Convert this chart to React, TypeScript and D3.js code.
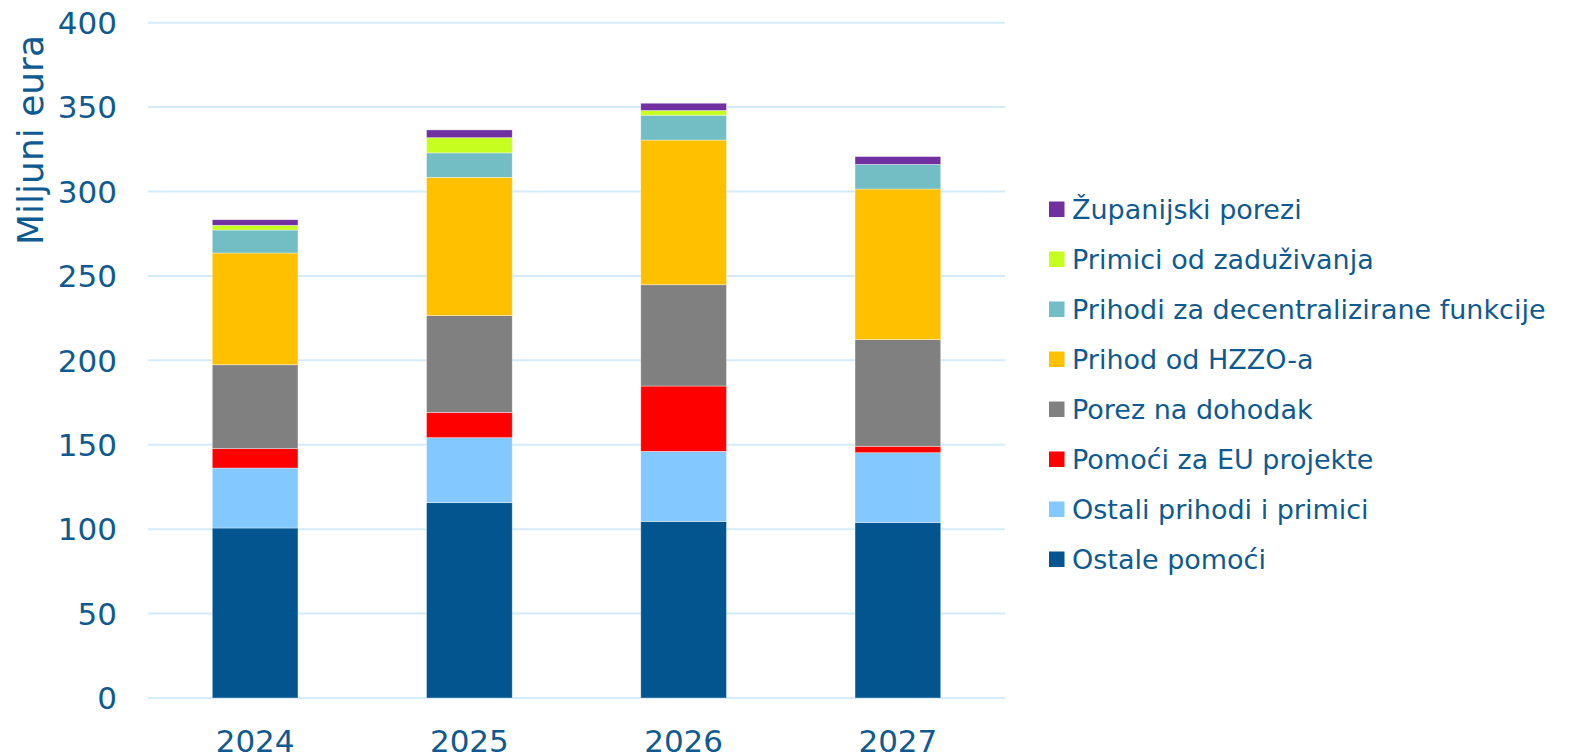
import React from "react";
import * as d3 from "d3";

const years = ["2024", "2025", "2026", "2027"];
const seriesNames = [
  "Ostale pomoći",
  "Ostali prihodi i primici",
  "Pomoći za EU projekte",
  "Porez na dohodak",
  "Prihod od HZZO-a",
  "Prihodi za decentralizirane funkcije",
  "Primici od zaduživanja",
  "Županijski porezi",
];
const seriesColors = ["#02558F", "#83C9FF", "#FF0000", "#808080", "#FFC000", "#72BEC4", "#C6FF1F", "#7030A0"];

const ostalePomoci = [100.7, 115.7, 104.6, 104.0];
const ostaliPrihodi = [35.5, 38.5, 41.5, 41.3];
const pomociEU = [11.5, 15.0, 38.7, 3.8];
const porezDohodak = [49.7, 57.3, 60.0, 63.2];
const hzzo = [66.2, 81.9, 85.7, 89.2];
const decentralizirane = [13.6, 14.5, 14.7, 14.6];
const zaduzivanje = [2.8, 9.0, 2.8, 0];
const zupanijski = [3.3, 4.6, 4.3, 4.6];

const seriesValues = [ostalePomoci, ostaliPrihodi, pomociEU, porezDohodak, hzzo, decentralizirane, zaduzivanje, zupanijski];
const yTicks = [0, 50, 100, 150, 200, 250, 300, 350, 400];

const W = 1571;
const H = 756;
const TEXT = "#0F5A90";
const FONT = "'DejaVu Sans', Verdana, sans-serif";

export default function App() {
  const x = d3.scaleBand<string>().domain(years).range([148, 1005]).paddingInner(0.6).paddingOuter(0.3);
  const y = d3.scaleLinear().domain([0, 400]).range([698, 22.7]);

  const table = years.map((yr, i) => {
    const row: Record<string, number | string> = { year: yr };
    seriesNames.forEach((s, k) => (row[s] = seriesValues[k][i]));
    return row;
  });
  const stack = d3.stack<Record<string, number | string>>().keys(seriesNames)(table as any);

  return (
    <svg width={W} height={H} style={{ position: "absolute", left: 0, top: 0, background: "#fff" }} fontFamily={FONT}>
      {yTicks.map((t) => (
        <line key={"g" + t} x1={148} x2={1005} y1={y(t)} y2={y(t)} stroke="#D4EBFA" strokeWidth={2} />
      ))}
      {stack.map((layer, k) => (
        <g key={seriesNames[k]} fill={seriesColors[k]}>
          {layer.map((d, i) =>
            d[1] - d[0] > 0 ? (
              <rect
                key={i}
                x={x(years[i])}
                width={x.bandwidth()}
                y={y(d[1])}
                height={y(d[0]) - y(d[1])}
                stroke="#ffffff"
                strokeOpacity={0.5}
                strokeWidth={0.75}
              />
            ) : null
          )}
        </g>
      ))}
      {yTicks.map((t) => (
        <text key={"t" + t} x={117} y={y(t)} dy="0.36em" textAnchor="end" fontSize={31} fill={TEXT}>
          {t}
        </text>
      ))}
      {years.map((yr) => (
        <text key={yr} x={x(yr)! + x.bandwidth() / 2} y={751.5} textAnchor="middle" fontSize={31} fill={TEXT}>
          {yr}
        </text>
      ))}
      <text transform="translate(43,140) rotate(-90)" textAnchor="middle" fontSize={36} fill={TEXT}>
        Miljuni eura
      </text>
      {seriesNames
        .slice()
        .reverse()
        .map((name, j) => {
          const k = seriesNames.length - 1 - j;
          const cy = 209 + j * 50;
          return (
            <g key={"l" + name}>
              <rect x={1049} y={cy - 7.5} width={15.5} height={15.5} fill={seriesColors[k]} />
              <text x={1072} y={cy} dy="0.36em" fontSize={27} fill={TEXT}>
                {name}
              </text>
            </g>
          );
        })}
    </svg>
  );
}
